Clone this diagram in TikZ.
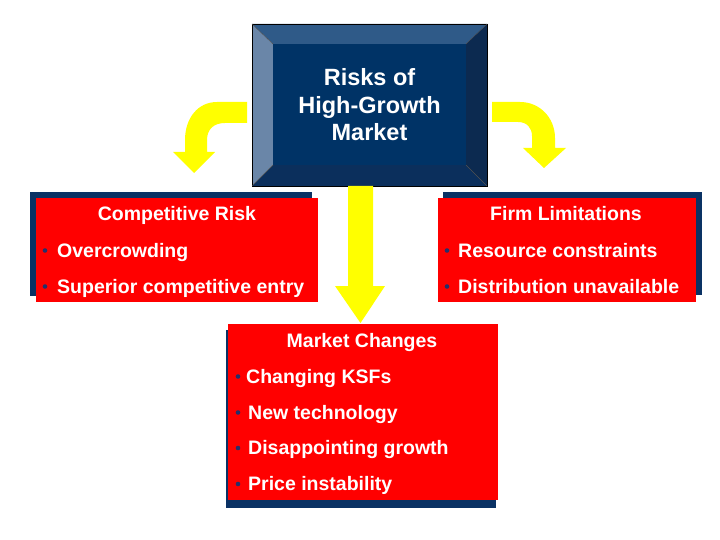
\documentclass[tikz,border=0pt]{standalone}
\usepackage{fontspec}
\setmainfont{Liberation Sans}
\definecolor{navy}{HTML}{0A3264}
\definecolor{face}{HTML}{003366}
\definecolor{bevtop}{HTML}{2F5A88}
\definecolor{bevleft}{HTML}{6A86A8}
\definecolor{bevright}{HTML}{0C2A50}
\definecolor{bevbot}{HTML}{0B2F5C}
\definecolor{boxred}{HTML}{FF0000}
\definecolor{arrowyellow}{HTML}{FFFF00}
\definecolor{dotblue}{HTML}{26306A}
\tikzset{
  shadowbox/.style={fill=navy, draw=none},
  redbox/.style={fill=boxred, draw=none, inner sep=0pt},
  heading/.style={text=white, font=\bfseries\fontsize{19.5}{22}\selectfont, inner sep=0pt, anchor=base},
  bulletline/.style={text=white, font=\bfseries\fontsize{19.5}{22}\selectfont, inner sep=0pt, anchor=base west},
  titletext/.style={text=white, font=\bfseries\fontsize{23.5}{28}\selectfont, inner sep=0pt, anchor=base},
  bulletdot/.style={circle, fill=dotblue, draw=none, inner sep=0pt, minimum size=4.6pt},
  yarrow/.style={fill=arrowyellow, draw=none}
}
\begin{document}
\begin{tikzpicture}[x=1pt,y=-1pt]
\useasboundingbox (0,0) rectangle (720,540);
% title bevel box
\coordinate (oTL) at (252,24); \coordinate (oTR) at (487,24);
\coordinate (oBR) at (487,186); \coordinate (oBL) at (252,186);
\coordinate (iTL) at (273,44); \coordinate (iTR) at (466,44);
\coordinate (iBR) at (466,165); \coordinate (iBL) at (273,165);
\fill[bevtop] (oTL) -- (oTR) -- (iTR) -- (iTL) -- cycle;
\fill[bevright] (oTR) -- (oBR) -- (iBR) -- (iTR) -- cycle;
\fill[bevbot] (oBR) -- (oBL) -- (iBL) -- (iBR) -- cycle;
\fill[bevleft] (oBL) -- (oTL) -- (iTL) -- (iBL) -- cycle;
\fill[face] (iTL) rectangle (iBR);
\draw[black, line width=0.8pt] (oTL) rectangle (oBR);
\draw[black!70, line width=0.4pt] (oTL) -- (iTL) (oTR) -- (iTR) (oBR) -- (iBR) (oBL) -- (iBL);
\node[titletext] (title1) at (369.5,86) {Risks of};
\node[titletext] (title2) at (369.5,113.5) {High-Growth};
\node[titletext] (title3) at (369.5,141) {Market};

% yellow arrows
\fill[yarrow] (348,186) -- (373,186) -- (373,286) -- (385,286) -- (360.5,323) -- (335,286) -- (348,286) -- cycle;
\fill[yarrow] (247,102) -- (217,102) .. controls (198,102) and (185,118) .. (185,140) -- (185,152) -- (173,152) -- (194,173) -- (215,152) -- (207,152) -- (207,140) .. controls (207,129) and (214,123) .. (225,123) -- (247,123) -- cycle;
\fill[yarrow] (492,102) -- (520,102) .. controls (540,102) and (555,118) .. (555,138) -- (555,148) -- (566,148) -- (544,168) -- (523,148) -- (532,148) -- (532,136) .. controls (532,128) and (527,122) .. (518,122) -- (492,122) -- cycle;

% competitive risk box
\fill[shadowbox] (30,192) rectangle (312,296);
\node[redbox, minimum width=282pt, minimum height=104pt] (comp) at (177,250) {};
\node[heading] (compH) at (177,221) {Competitive Risk};
\node[bulletdot] (compd1) at (45,250.5) {};
\node[bulletline] (comp1) at (57,257) {Overcrowding};
\node[bulletdot] (compd2) at (45,286.5) {};
\node[bulletline] (comp2) at (57,293) {Superior competitive entry};

% firm limitations box
\fill[shadowbox] (443,192) rectangle (702,295);
\node[redbox, minimum width=258pt, minimum height=104pt] (firm) at (567,250) {};
\node[heading] (firmH) at (566,221) {Firm Limitations};
\node[bulletdot] (firmd1) at (447,250.5) {};
\node[bulletline] (firm1) at (458,257) {Resource constraints};
\node[bulletdot] (firmd2) at (447,286.5) {};
\node[bulletline] (firm2) at (458,293) {Distribution unavailable};

% market changes box
\fill[shadowbox] (226,330) rectangle (496,508);
\node[redbox, minimum width=270pt, minimum height=176pt] (mkt) at (363,412) {};
\node[heading] (mktH) at (362,347) {Market Changes};
\node[bulletdot] (mktd1) at (238,376.5) {};
\node[bulletline] (mkt1) at (246,383) {Changing KSFs};
\node[bulletdot] (mktd2) at (238,412.5) {};
\node[bulletline] (mkt2) at (248,419) {New technology};
\node[bulletdot] (mktd3) at (238,448) {};
\node[bulletline] (mkt3) at (248,454.5) {Disappointing growth};
\node[bulletdot] (mktd4) at (238,484) {};
\node[bulletline] (mkt4) at (248,490.5) {Price instability};
\end{tikzpicture}
\end{document}
